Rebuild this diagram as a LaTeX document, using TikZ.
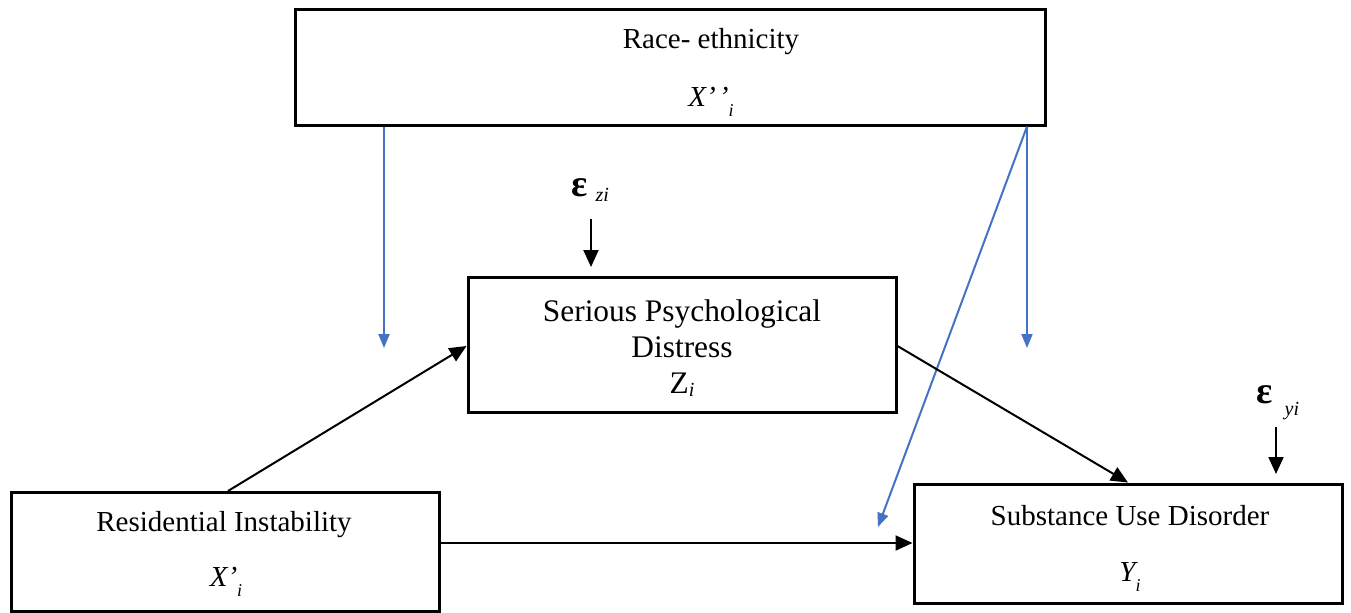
\documentclass[tikz,border=0pt]{standalone}
\usepackage{fontspec}
\setmainfont{Liberation Serif}
\usetikzlibrary{arrows.meta,calc}
\begin{document}
\begin{tikzpicture}[x=0.5pt,y=-0.5pt,
  box/.style={draw,line width=1.5pt,inner sep=0pt},
  txt/.style={inner sep=0pt,font=\fontsize{14.5}{17}\selectfont},
  conn/.style={line width=1pt,-{Triangle[length=8.5pt,width=7.5pt]}},
  blueconn/.style={line width=1pt,draw=bluec,-{Triangle[length=7pt,width=5.5pt]}}]
\definecolor{bluec}{HTML}{4472C4}
\useasboundingbox (0,0) rectangle (1351,612);
% boxes
\node[box,minimum width=375pt,minimum height=58pt] (race) at (670,67) {};
\node[box,minimum width=214pt,minimum height=67.5pt] (spd) at (682,344.5) {};
\node[box,minimum width=214pt,minimum height=59.5pt] (ri) at (225,552) {};
\node[box,minimum width=214pt,minimum height=59.5pt] (sud) at (1128,543.5) {};
% texts
\node[txt] (racet) at (711,42) {Race- ethnicity};
\node[txt] (racex) at (711,102) {\itshape X’\kern1.5pt’\raisebox{-5pt}{\fontsize{9}{10}\selectfont\itshape i}};
\node[txt,align=center,font=\fontsize{15.7}{18}\selectfont] (spdt) at (682,348) {Serious Psychological\\Distress\\Z\raisebox{-1.5pt}{\fontsize{10}{11}\selectfont\itshape i}};
\node[txt] (rit) at (224,525) {Residential Instability};
\node[txt] (rix) at (226,582) {\itshape X’\raisebox{-5pt}{\fontsize{9}{10}\selectfont\itshape i}};
\node[txt] (sudt) at (1130,516) {Substance Use Disorder};
\node[txt] (sudy) at (1130,577) {\itshape Y\raisebox{-5pt}{\fontsize{9}{10}\selectfont\itshape i}};
% error terms
\node[txt,anchor=west] (ez) at (571,190) {{\fontsize{19}{20}\selectfont\bfseries ε}\hspace{4pt}{\fontsize{10}{11}\selectfont\itshape\raisebox{-2.5pt}{zi}}};
\node[txt,anchor=west] (ey) at (1256,403) {{\fontsize{19}{20}\selectfont\bfseries ε}\hspace{6pt}{\fontsize{10}{11}\selectfont\itshape\raisebox{-6pt}{yi}}};
\coordinate (ezs) at (591,219);
\coordinate (eze) at (591,267);
\coordinate (eys) at (1276,427);
\coordinate (eye) at (1276,474);
\draw[conn] (ezs) -- (eze);
\draw[conn] (eys) -- (eye);
% blue moderator arrows
\coordinate (b1) at (384,348);
\coordinate (b2) at (1027,348);
\coordinate (b3) at (878,527);
\draw[blueconn] (race.south -| b1) -- (b1);
\draw[blueconn] (race.south -| b2) -- (b2);
\draw[blueconn] (race.south -| b2) -- (b3);
% black paths
\draw[conn] (ri.north -| 228,0) -- (spd.west |- 0,346);
\draw[conn] (spd.east |- 0,346) -- (sud.north -| 1128,0);
\draw[conn] (ri.east |- 0,543) -- (sud.west |- 0,543);
\end{tikzpicture}
\end{document}
